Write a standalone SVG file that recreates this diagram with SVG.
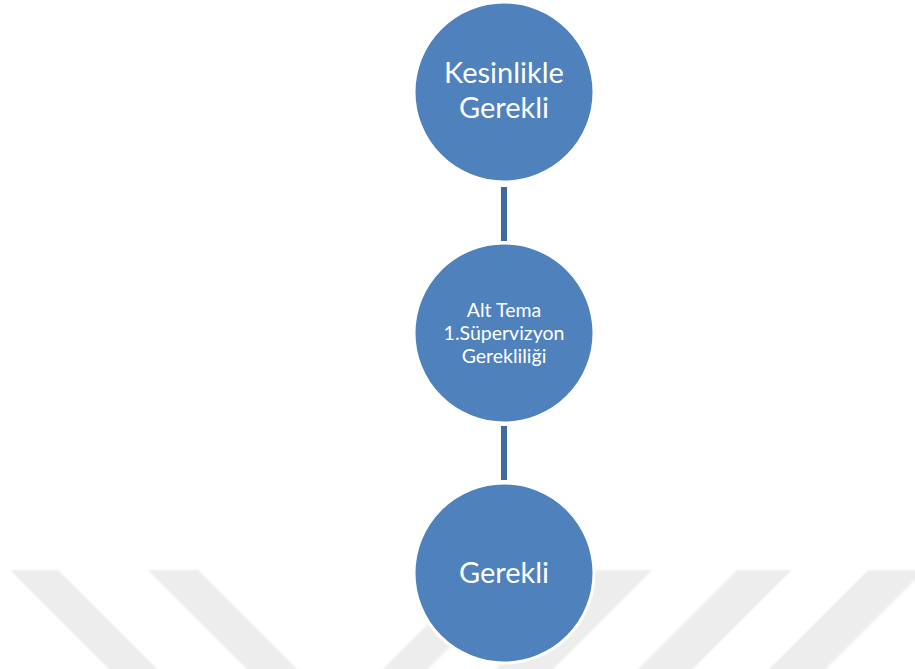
<svg xmlns="http://www.w3.org/2000/svg" width="915" height="669" viewBox="0 0 915 669">
  <defs>
    <filter id="soft" x="-10%" y="-10%" width="120%" height="120%">
      <feGaussianBlur stdDeviation="1"/>
    </filter>
  </defs>
  <style>
    .stripe { fill: #ededed; }
    .node { fill: #4f81bd; stroke: #ffffff; stroke-width: 3; }
    .link { stroke: #40699c; stroke-width: 6; fill: none; }
    .label { fill: #ffffff; font-family: Lato, "Liberation Sans", sans-serif; text-anchor: middle; }
    .big { font-size: 29px; }
    .small { font-size: 19.5px; }
  </style>

  <rect width="915" height="669" fill="#ffffff"/>

  <!-- background stripe pattern -->
  <g id="backdrop" filter="url(#soft)">
    <polygon class="stripe" points="10,570 58,570 188,700 140,700"/>
    <polygon class="stripe" points="148,570 198,570 328,700 278,700"/>
    <polygon class="stripe" points="482,570 527,570 397,700 352,700"/>
    <polygon class="stripe" points="595,570 652,570 522,700 465,700"/>
    <polygon class="stripe" points="737,570 792,570 662,700 607,700"/>
    <polygon class="stripe" points="868,570 925,570 795,700 738,700"/>
  </g>

  <!-- connectors -->
  <g id="connectors">
    <line class="link" x1="504" y1="187" x2="504" y2="241"/>
    <line class="link" x1="504" y1="426" x2="504" y2="480"/>
  </g>

  <g id="node-kesinlikle">
    <circle class="node" cx="504" cy="92" r="90"/>
    <text class="label big" x="504" y="83">Kesinlikle</text>
    <text class="label big" x="504" y="118">Gerekli</text>
  </g>

  <g id="node-alt-tema">
    <circle class="node" cx="504" cy="333" r="90"/>
    <text class="label small" x="504" y="317">Alt Tema</text>
    <text class="label small" x="504" y="340">1.Süpervizyon</text>
    <text class="label small" x="504" y="363">Gerekliliği</text>
  </g>

  <g id="node-gerekli">
    <circle class="node" cx="504" cy="573" r="90"/>
    <text class="label big" x="504" y="583">Gerekli</text>
  </g>
</svg>
